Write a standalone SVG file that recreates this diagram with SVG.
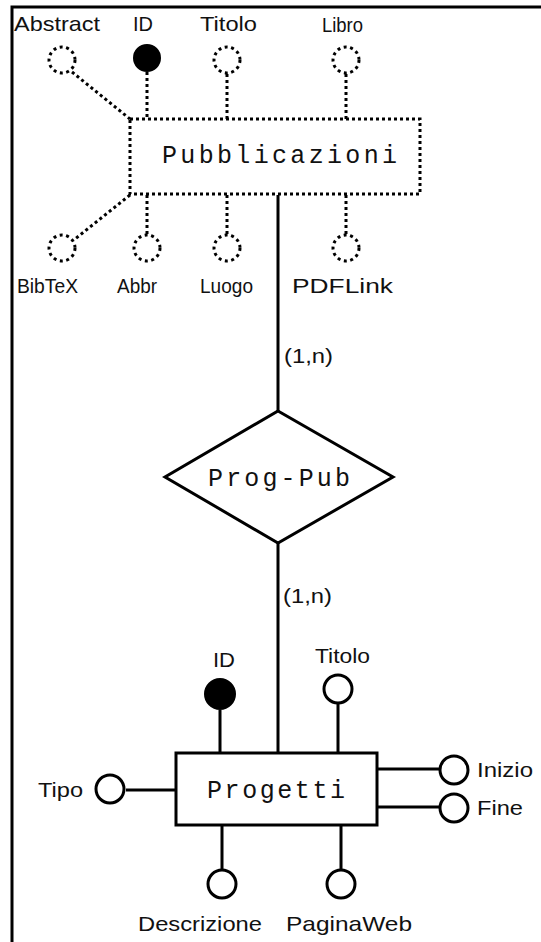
<svg xmlns="http://www.w3.org/2000/svg" width="541" height="942" viewBox="0 0 541 942">
<style>
.lbl{font-family:"Liberation Sans",Arial,sans-serif;font-size:21px;fill:#111}
.mono{font-family:"Liberation Mono","Courier New",monospace;font-size:25px;fill:#111}
.dot{fill:none;stroke:#000;stroke-width:3;stroke-dasharray:3 3}
.dc{fill:#fff;stroke:#000;stroke-width:3;stroke-dasharray:3 3.5}
.sol{fill:none;stroke:#000;stroke-width:3}
.sc{fill:#fff;stroke:#000;stroke-width:3}
.key{fill:#000;stroke:#000;stroke-width:2}
</style>
<rect width="541" height="942" fill="#fff"/>
<g id="frame"><path d="M12 942V7H541" fill="none" stroke="#000" stroke-width="3"/></g>
<g id="connectors">
<path class="dot" d="M72 72L130 119M147 72V119M227 74V119M346 74V119"/>
<path class="dot" d="M130 195L75 239M147 195V234M227 195V234M346 195V234"/>
<path class="sol" d="M278 195V411M278 543V753"/>
<path class="sol" d="M220 710V753M338 703V753M126 790H176M377 769H440M377 807H440M222 825V870M341 825V870"/>
<text class="lbl" x="284" y="363" textLength="49" lengthAdjust="spacingAndGlyphs">(1,n)</text>
<text class="lbl" x="283" y="603" textLength="49" lengthAdjust="spacingAndGlyphs">(1,n)</text>
</g>
<g id="Pubblicazioni">
<rect class="dot" x="130" y="119" width="290" height="75"/>
<text class="mono" x="162" y="163" textLength="235" lengthAdjust="spacing">Pubblicazioni</text>
</g>
<g id="pub-Abstract"><circle class="dc" cx="62" cy="60" r="13"/><text class="lbl" x="14" y="31" textLength="86" lengthAdjust="spacingAndGlyphs">Abstract</text></g>
<g id="pub-ID"><circle class="key" cx="147" cy="58" r="13"/><text class="lbl" x="133" y="31" textLength="20" lengthAdjust="spacingAndGlyphs">ID</text></g>
<g id="pub-Titolo"><circle class="dc" cx="227" cy="60" r="13"/><text class="lbl" x="200" y="31" textLength="57" lengthAdjust="spacingAndGlyphs">Titolo</text></g>
<g id="pub-Libro"><circle class="dc" cx="346" cy="60" r="13"/><text class="lbl" x="322" y="32" textLength="41" lengthAdjust="spacingAndGlyphs">Libro</text></g>
<g id="pub-BibTeX"><circle class="dc" cx="62" cy="248" r="13"/><text class="lbl" x="17" y="293" textLength="61" lengthAdjust="spacingAndGlyphs">BibTeX</text></g>
<g id="pub-Abbr"><circle class="dc" cx="147" cy="248" r="13"/><text class="lbl" x="117" y="293" textLength="40" lengthAdjust="spacingAndGlyphs">Abbr</text></g>
<g id="pub-Luogo"><circle class="dc" cx="227" cy="248" r="13"/><text class="lbl" x="200" y="293" textLength="53" lengthAdjust="spacingAndGlyphs">Luogo</text></g>
<g id="pub-PDFLink"><circle class="dc" cx="346" cy="248" r="13"/><text class="lbl" x="292" y="293" textLength="101" lengthAdjust="spacingAndGlyphs">PDFLink</text></g>
<g id="Prog-Pub">
<polygon class="sc" points="278,411 393,477 278,543 165,477"/>
<text class="mono" x="208" y="486" textLength="142" lengthAdjust="spacing">Prog-Pub</text>
</g>
<g id="Progetti">
<rect class="sc" x="176" y="753" width="201" height="72"/>
<text class="mono" x="207" y="798" textLength="138" lengthAdjust="spacing">Progetti</text>
</g>
<g id="prog-ID"><circle class="key" cx="220" cy="694" r="15"/><text class="lbl" x="213" y="667" textLength="22" lengthAdjust="spacingAndGlyphs">ID</text></g>
<g id="prog-Titolo"><circle class="sc" cx="338" cy="689" r="14"/><text class="lbl" x="315" y="663" textLength="55" lengthAdjust="spacingAndGlyphs">Titolo</text></g>
<g id="prog-Tipo"><circle class="sc" cx="110" cy="789" r="14"/><text class="lbl" x="38" y="797" textLength="45" lengthAdjust="spacingAndGlyphs">Tipo</text></g>
<g id="prog-Inizio"><circle class="sc" cx="454" cy="770" r="14"/><text class="lbl" x="477" y="777" textLength="56" lengthAdjust="spacingAndGlyphs">Inizio</text></g>
<g id="prog-Fine"><circle class="sc" cx="454" cy="808" r="14"/><text class="lbl" x="477" y="815" textLength="46" lengthAdjust="spacingAndGlyphs">Fine</text></g>
<g id="prog-Descrizione"><circle class="sc" cx="222" cy="884" r="14"/><text class="lbl" x="138" y="931" textLength="124" lengthAdjust="spacingAndGlyphs">Descrizione</text></g>
<g id="prog-PaginaWeb"><circle class="sc" cx="341" cy="884" r="14"/><text class="lbl" x="286" y="931" textLength="126" lengthAdjust="spacingAndGlyphs">PaginaWeb</text></g>
</svg>
